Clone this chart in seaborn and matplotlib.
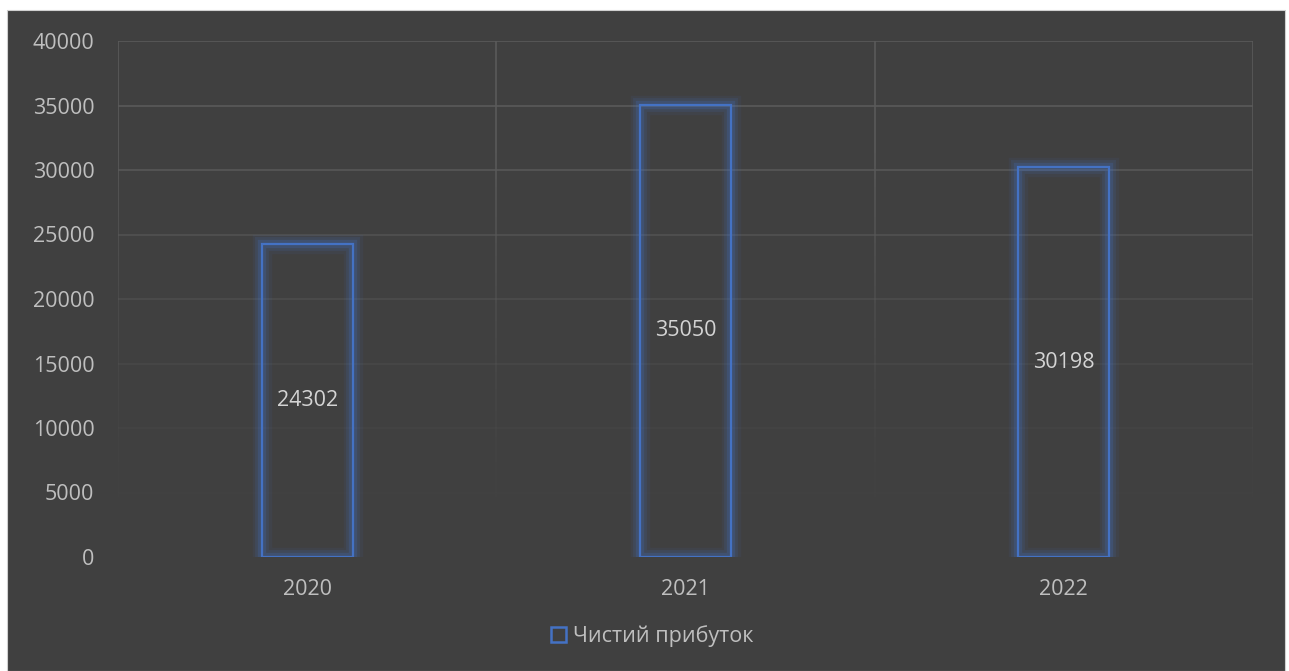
import numpy as np
import matplotlib
matplotlib.use("Agg")
import matplotlib.pyplot as plt
import matplotlib.patheffects as pe
from matplotlib.collections import LineCollection
from matplotlib.patches import Rectangle, Patch
import seaborn as sns
import pandas as pd

# Net profit by year
years = ["2020", "2021", "2022"]
net_profit = [24302, 35050, 30198]
series_name = "Чистий прибуток"
y_ticks = [0, 5000, 10000, 15000, 20000, 25000, 30000, 35000, 40000]

BG = "#404040"
GRID = "#5a5a5a"
BLUE = "#4472C4"
TICK = "#bfbfbf"
LABEL = "#d4d4d4"
FS = 15.5

sns.set_theme(style="dark")
plt.rcParams["font.family"] = ["Open Sans", "DejaVu Sans"]

df = pd.DataFrame({"year": years, "profit": net_profit})

fig = plt.figure(figsize=(12.89, 6.71), dpi=100, facecolor="white")
# dark chart panel
fig.patches.append(Rectangle((7 / 1289, 0), (1285 - 7) / 1289, 1 - 10 / 671,
                             transform=fig.transFigure, facecolor=BG,
                             edgecolor="#d0d0d0", linewidth=0.8, zorder=-10))

ax = fig.add_axes([118 / 1289, 1 - 557 / 671, (1253 - 118) / 1289, (557 - 41) / 671])
ax.set_zorder(1)
ax.set_facecolor("none")

sns.barplot(data=df, x="year", y="profit", ax=ax, width=0.24, fill=False,
            edgecolor=BLUE, linewidth=1.6, errorbar=None, zorder=3)

# soft glow around the bar outlines
glow = [pe.Stroke(linewidth=14, foreground=BLUE, alpha=0.08),
        pe.Stroke(linewidth=10, foreground=BLUE, alpha=0.13),
        pe.Stroke(linewidth=6, foreground=BLUE, alpha=0.22),
        pe.Normal()]
for p in ax.patches:
    p.set_edgecolor(BLUE)
    p.set_facecolor("none")
    p.set_path_effects(glow)

ax.set_ylim(0, 40000)
ax.set_xlim(-0.5, 2.5)
ax.set_yticks(y_ticks)
ax.set_yticklabels([str(t) for t in y_ticks])
ax.grid(False)
for s in ax.spines.values():
    s.set_visible(False)


def fade(v):
    return float(np.clip(v / 32000, 0, 1) ** 1.6)


# horizontal gridlines, fading toward the baseline
for t in y_ticks[1:]:
    ax.axhline(t, color=GRID, linewidth=1.2, alpha=fade(t), zorder=1)

# vertical category separators, fading toward the baseline
ys = np.linspace(0, 40000, 121)
segs, alphas = [], []
for xb in [-0.5, 0.5, 1.5, 2.5]:
    for y0, y1 in zip(ys[:-1], ys[1:]):
        segs.append([(xb, y0), (xb, y1)])
        alphas.append(fade((y0 + y1) / 2))
cols = [matplotlib.colors.to_rgba(GRID, a) for a in alphas]
ax.add_collection(LineCollection(segs, colors=cols, linewidths=1.2, zorder=1))

ax.tick_params(axis="both", colors=TICK, labelsize=FS, length=0)
ax.tick_params(axis="y", pad=17)
ax.tick_params(axis="x", pad=16)
ax.set_xlabel("")
ax.set_ylabel("")

for c in ax.containers:
    ax.bar_label(c, labels=[str(v) for v in net_profit], label_type="center",
                 color=LABEL, fontsize=FS)

handle = Patch(facecolor="none", edgecolor=BLUE, linewidth=1.8, label=series_name)
fig.legend(handles=[handle], loc="center", bbox_to_anchor=(652 / 1289, 1 - 636 / 671),
           frameon=False, fontsize=FS, labelcolor=TICK, handlelength=0.7,
           handleheight=0.7, handletextpad=0.3)

fig.savefig("out.png", dpi=100, facecolor="white")
